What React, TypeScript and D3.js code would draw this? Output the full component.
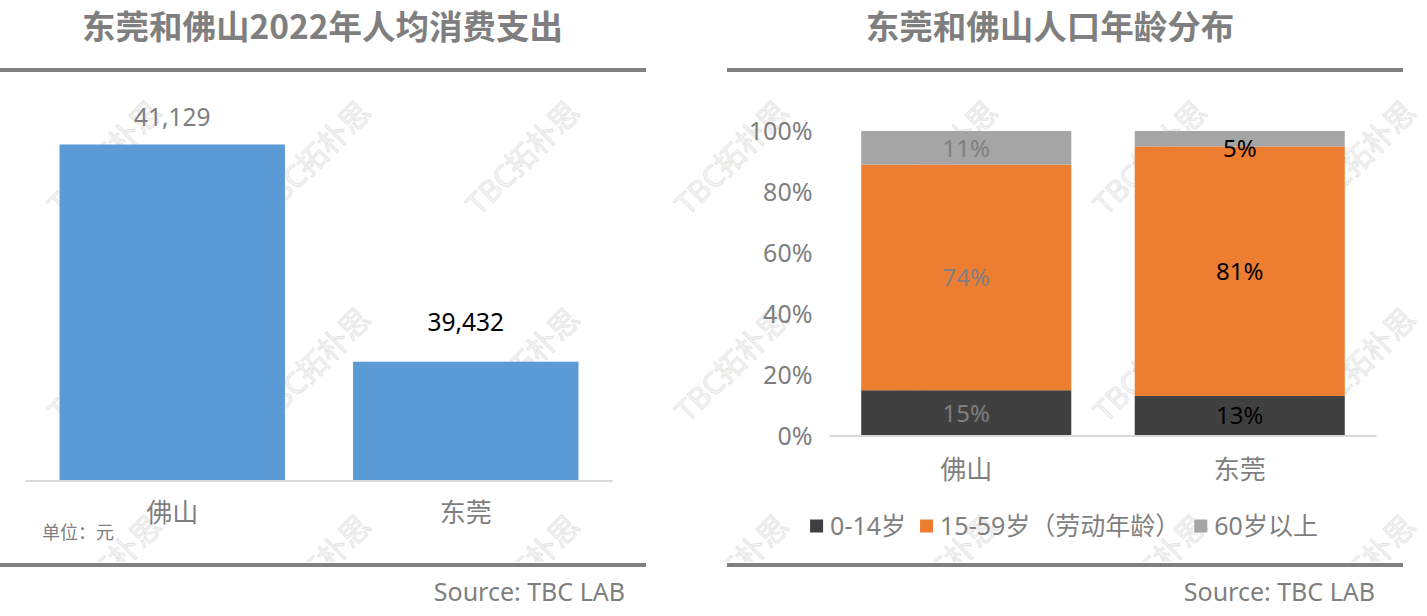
import React, { useEffect, useRef } from "react";
import * as d3 from "d3";

// ---- data ----
const spendCategories = ["佛山", "东莞"];
const spendValues = [41129, 39432];
const spendDomain = [38500, 41500];

const ageCategories = ["佛山", "东莞"];
const ageGroups = ["0-14岁", "15-59岁（劳动年龄）", "60岁以上"];
const age0to14 = [15, 13];
const age15to59 = [74, 81];
const age60plus = [11, 5];
const pctTicks = [0, 0.2, 0.4, 0.6, 0.8, 1];

const leftTitle = "东莞和佛山2022年人均消费支出";
const rightTitle = "东莞和佛山人口年龄分布";
const unitText = "单位：元";
const sourceText = "Source: TBC LAB";
const watermarkText = "TBC拓朴思";

const FONT = "'Noto Sans','Noto Sans CJK SC',sans-serif";
const CJK = "'Noto Sans CJK SC','Noto Sans',sans-serif";
const labelColors = ["#7f7f7f", "#000000"];
const ageColors = ["#404040", "#ed7d31", "#a5a5a5"];

export default function App() {
  const ref = useRef<SVGSVGElement>(null);

  useEffect(() => {
    const svg = d3.select(ref.current);
    svg.selectAll("*").remove();

    // clip for watermarks (between the rules)
    svg.append("defs").append("clipPath").attr("id", "wmclip")
      .append("rect").attr("x", 0).attr("y", 73).attr("width", 1427).attr("height", 489);

    // watermarks (behind everything)
    const wm = svg.append("g").attr("clip-path", "url(#wmclip)");
    for (const wx of d3.range(105, 1427 + 100, 209)) {
      for (const wy of [158, 365, 572]) {
        wm.append("text")
          .attr("transform", `translate(${wx},${wy}) rotate(-45)`)
          .attr("text-anchor", "middle")
          .attr("dy", "0.35em")
          .attr("font-family", FONT)
          .attr("font-size", 30)
          .attr("fill", "#f4f4f4")
          .attr("stroke", "#dedede")
          .attr("stroke-width", 0.6)
          .text(watermarkText);
      }
    }

    // frames: titles, rules, source
    const panels = [
      { title: leftTitle, cx: 322.5, x0: 0, x1: 646, srcX: 625 },
      { title: rightTitle, cx: 1050, x0: 727, x1: 1403, srcX: 1375 },
    ];
    panels.forEach((p) => {
      svg.append("text")
        .attr("x", p.cx).attr("y", 38.5)
        .attr("text-anchor", "middle")
        .attr("font-family", CJK).attr("font-weight", 700)
        .attr("font-size", 33.5).attr("fill", "#7f7f7f")
        .text(p.title);
      [70, 565].forEach((ly) => {
        svg.append("line")
          .attr("x1", p.x0).attr("x2", p.x1).attr("y1", ly).attr("y2", ly)
          .attr("stroke", "#808080").attr("stroke-width", 4);
      });
      svg.append("text")
        .attr("x", p.srcX).attr("y", 601)
        .attr("text-anchor", "end")
        .attr("font-family", FONT).attr("font-size", 25)
        .attr("fill", "#7f7f7f")
        .text(sourceText);
    });

    // ---- left chart ----
    const x1 = d3.scaleBand<string>().domain(spendCategories)
      .range([25.5, 612.5]).paddingInner(0.232).paddingOuter(0.116);
    const y1 = d3.scaleLinear().domain(spendDomain).range([481, 97]);
    const gL = svg.append("g");
    gL.selectAll("rect").data(spendValues).join("rect")
      .attr("x", (_, i) => x1(spendCategories[i])!)
      .attr("y", (d) => y1(d))
      .attr("width", x1.bandwidth())
      .attr("height", (d) => y1(spendDomain[0]) - y1(d))
      .attr("fill", "#5b9bd5");
    gL.append("line")
      .attr("x1", x1.range()[0]).attr("x2", x1.range()[1])
      .attr("y1", y1(spendDomain[0])).attr("y2", y1(spendDomain[0]))
      .attr("stroke", "#d9d9d9").attr("stroke-width", 2);
    const fmt = d3.format(",");
    gL.selectAll("text.val").data(spendValues).join("text")
      .attr("class", "val")
      .attr("x", (_, i) => x1(spendCategories[i])! + x1.bandwidth() / 2)
      .attr("y", (d) => Math.max(y1(d) - 39, y1.range()[1] + 20) + 8.5)
      .attr("text-anchor", "middle")
      .attr("font-family", FONT).attr("font-size", 24.5)
      .attr("fill", (_, i) => labelColors[i])
      .text((d) => fmt(d));
    const axL = gL.append("g")
      .attr("transform", `translate(0,${y1(spendDomain[0])})`)
      .call(d3.axisBottom(x1).tickSize(0).tickPadding(23));
    axL.select(".domain").remove();
    axL.selectAll("text")
      .attr("font-family", CJK).attr("font-size", 26).attr("fill", "#7f7f7f");
    gL.append("text")
      .attr("x", 42).attr("y", 539)
      .attr("font-family", CJK).attr("font-size", 18).attr("fill", "#7f7f7f")
      .text(unitText);

    // ---- right chart ----
    const rows = ageCategories.map((c, i) => ({
      cat: c,
      [ageGroups[0]]: age0to14[i],
      [ageGroups[1]]: age15to59[i],
      [ageGroups[2]]: age60plus[i],
    }));
    const stacked = d3.stack<any>().keys(ageGroups).offset(d3.stackOffsetExpand)(rows);
    const x2 = d3.scaleBand<string>().domain(ageCategories)
      .range([829.5, 1376.5]).paddingInner(0.232).paddingOuter(0.116);
    const y2 = d3.scaleLinear().domain([0, 1]).range([436, 131]);
    const gR = svg.append("g");
    stacked.forEach((series, si) => {
      gR.append("g").selectAll("rect").data(series).join("rect")
        .attr("x", (d: any) => x2(d.data.cat)!)
        .attr("y", (d: any) => y2(d[1]))
        .attr("width", x2.bandwidth())
        .attr("height", (d: any) => y2(d[0]) - y2(d[1]))
        .attr("fill", ageColors[si]);
    });
    stacked.forEach((series) => {
      gR.append("g").selectAll("text").data(series).join("text")
        .attr("x", (d: any) => x2(d.data.cat)! + x2.bandwidth() / 2)
        .attr("y", (d: any) => Math.max((y2(d[0]) + y2(d[1])) / 2, y2(1) + 17) + 8.5)
        .attr("text-anchor", "middle")
        .attr("font-family", FONT).attr("font-size", 24)
        .attr("fill", (_: any, i: number) => labelColors[i])
        .text((d: any) => `${d.data[series.key]}%`);
    });
    gR.append("line")
      .attr("x1", x2.range()[0]).attr("x2", x2.range()[1])
      .attr("y1", y2(0)).attr("y2", y2(0))
      .attr("stroke", "#d9d9d9").attr("stroke-width", 2);
    const axY = gR.append("g")
      .attr("transform", `translate(${x2.range()[0]},0)`)
      .call(d3.axisLeft(y2).tickValues(pctTicks).tickFormat(d3.format(".0%")).tickSize(0).tickPadding(17));
    axY.select(".domain").remove();
    axY.selectAll("text")
      .attr("font-family", FONT).attr("font-size", 25).attr("fill", "#7f7f7f");
    const axX = gR.append("g")
      .attr("transform", `translate(0,${y2(0)})`)
      .call(d3.axisBottom(x2).tickSize(0).tickPadding(25));
    axX.select(".domain").remove();
    axX.selectAll("text")
      .attr("font-family", CJK).attr("font-size", 26).attr("fill", "#7f7f7f");

    // legend
    const leg = gR.append("g");
    let cx = 0;
    ageGroups.forEach((g, i) => {
      leg.append("rect")
        .attr("x", cx).attr("y", -6.5).attr("width", 13).attr("height", 13)
        .attr("fill", ageColors[i]);
      const t = leg.append("text")
        .attr("x", cx + 20).attr("y", 9)
        .attr("font-family", FONT).attr("font-size", 25).attr("fill", "#7f7f7f")
        .text(g);
      const w = (t.node() as SVGTextElement).getComputedTextLength();
      cx += 20 + w + 14;
    });
    const legW = cx - 14;
    leg.attr("transform", `translate(${1064 - legW / 2},526)`);
  }, []);

  return (
    <svg
      ref={ref}
      width={1427}
      height={616}
      style={{ position: "absolute", left: 0, top: 0, background: "#fff" }}
    />
  );
}
